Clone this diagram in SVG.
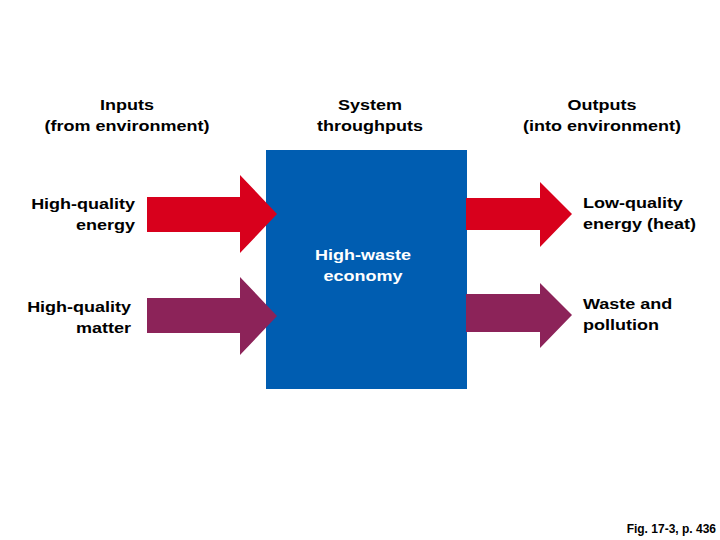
<svg xmlns="http://www.w3.org/2000/svg" width="720" height="540" viewBox="0 0 720 540">
<style>
.t{font-family:"Liberation Sans",Arial,sans-serif;font-weight:bold;font-size:15px;fill:#000}
.w{fill:#fff}
.m{text-anchor:middle}
.e{text-anchor:end}
.red{fill:#d8001c}
.pur{fill:#8c2359}
</style>
<rect width="720" height="540" fill="#fff"/>
<g id="headers">
<text class="t m" transform="translate(127 110) scale(1.2 1)"><tspan x="0">Inputs</tspan><tspan x="0" dy="21.5">(from environment)</tspan></text>
<text class="t m" transform="translate(370 110) scale(1.2 1)"><tspan x="0">System</tspan><tspan x="0" dy="21.5">throughputs</tspan></text>
<text class="t m" transform="translate(602 110) scale(1.2 1)"><tspan x="0">Outputs</tspan><tspan x="0" dy="21.5">(into environment)</tspan></text>
</g>
<g id="economy">
<rect x="266" y="150" width="201" height="239" fill="#005db1"/>
<text class="t m w" transform="translate(363 260) scale(1.2 1)"><tspan x="0">High-waste</tspan><tspan x="0" dy="21.5">economy</tspan></text>
</g>
<g id="in-energy">
<text class="t e" transform="translate(135 209) scale(1.2 1)"><tspan x="0">High-quality</tspan><tspan x="0" dy="21.5">energy</tspan></text>
</g>
<g id="in-matter">
<text class="t e" transform="translate(131 312) scale(1.2 1)"><tspan x="0">High-quality</tspan><tspan x="0" dy="21.5">matter</tspan></text>
</g>
<g id="out-energy">
<text class="t" transform="translate(583 208) scale(1.2 1)"><tspan x="0">Low-quality</tspan><tspan x="0" dy="21.5">energy (heat)</tspan></text>
</g>
<g id="out-waste">
<text class="t" transform="translate(583 309) scale(1.2 1)"><tspan x="0">Waste and</tspan><tspan x="0" dy="21.5">pollution</tspan></text>
</g>
<g id="connectors">
<polygon class="red" points="147,197 240,197 240,175 277,214 240,253 240,232 147,232"/>
<polygon class="pur" points="147,298 240,298 240,277 277,316 240,355 240,333 147,333"/>
<polygon class="red" points="466,198 540,198 540,182 572,214 540,247 540,230 466,230"/>
<polygon class="pur" points="466,294 540,294 540,283 572,315 540,348 540,332 466,332"/>
</g>
<text class="t e" style="font-size:12px" x="716" y="533">Fig. 17-3, p. 436</text>
</svg>
